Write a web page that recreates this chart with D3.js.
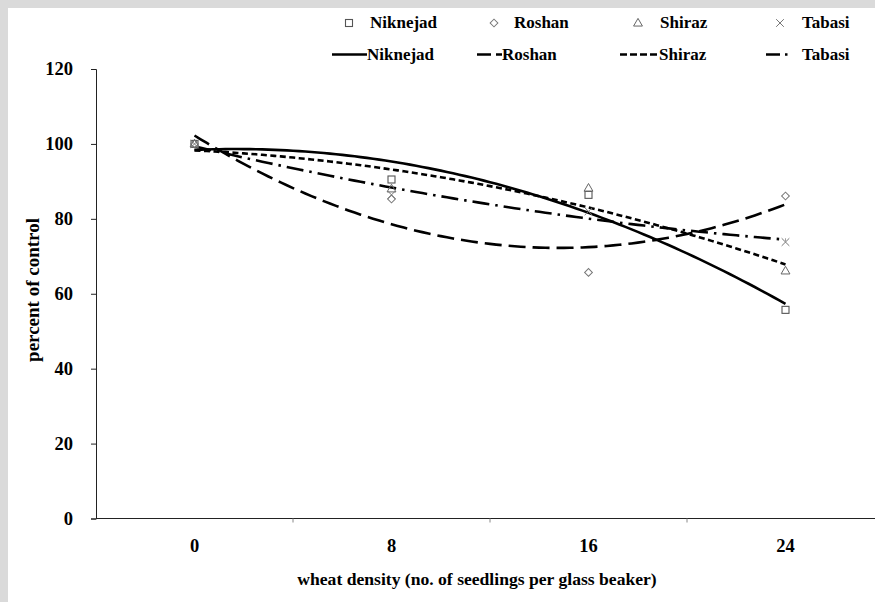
<!DOCTYPE html>
<html>
<head>
<meta charset="utf-8">
<script src="https://cdn.jsdelivr.net/npm/d3@7"></script>
<style>
  body { margin: 0; background: #fff; }
</style>
</head>
<body>
<div id="grafico"></div>
<script>
// dados
const densidades = ["0", "8", "16", "24"];
const niknejad = [100, 90.5, 86.4, 55.7];
const roshan = [100, 85.3, 65.7, 86.1];
const shiraz = [100, 88.0, 88.2, 66.1];
const tabasi = [100, 86.4, 82.0, 73.8];
const ticks_y = [0, 20, 40, 60, 80, 100, 120];

const fonte = "'Liberation Serif', 'DejaVu Serif', 'Times New Roman', serif";

const series = [
  {nome: "Niknejad", valores: niknejad, simbolo: "square", traco: null, legX: 349, textoX: 370, linhaLeg: [332, 367], textoX2: 367},
  {nome: "Roshan", valores: roshan, simbolo: "diamond", traco: "17,7", tracoLeg: "14,5", legX: 494, textoX: 514, linhaLeg: [477, 502], textoX2: 502},
  {nome: "Shiraz", valores: shiraz, simbolo: "triangle", traco: "6,3.5", tracoLeg: "7,3", legX: 638, textoX: 660, linhaLeg: [620, 659], textoX2: 659},
  {nome: "Tabasi", valores: tabasi, simbolo: "x", traco: "17,6,2.5,6", tracoLeg: "14,5,2.5,5", legX: 780, textoX: 802, linhaLeg: [766, 789], textoX2: 802}
];

const largura = 875, altura = 602;

const svg = d3.select("#grafico").append("svg")
    .attr("width", largura)
    .attr("height", altura)
    .attr("font-family", fonte)
    .attr("font-weight", "bold");

// moldura cinza (topo e esquerda)
svg.append("rect").attr("x", 0).attr("y", 0).attr("width", largura).attr("height", 8).attr("fill", "#dadada");
svg.append("rect").attr("x", 0).attr("y", 0).attr("width", 8).attr("height", altura).attr("fill", "#dadada");

// escalas
const x = d3.scaleBand().domain(densidades).range([96, 884]).paddingInner(0).paddingOuter(0);
const xNum = d3.scaleLinear()
    .domain([+densidades[0], +densidades[densidades.length - 1]])
    .range([x(densidades[0]) + x.bandwidth() / 2, x(densidades[densidades.length - 1]) + x.bandwidth() / 2]);
const y = d3.scaleLinear().domain([0, 120]).range([518.5, 69]);

// eixo y
const eixoY = svg.append("g")
    .attr("transform", "translate(96,0)")
    .call(d3.axisLeft(y).tickValues(ticks_y).tickSize(5).tickPadding(18).tickFormat(d3.format("d")));
eixoY.attr("font-family", fonte).attr("font-size", 18.5);
eixoY.select(".domain").attr("stroke", "#222");
eixoY.selectAll(".tick line").attr("stroke", "#222");
eixoY.selectAll(".tick text").attr("fill", "#000");

// eixo x com marcas entre as categorias
const eixoX = svg.append("g")
    .attr("transform", "translate(0,518.5)");
eixoX.append("line")
    .attr("x1", 96).attr("x2", 884)
    .attr("stroke", "#222");
eixoX.selectAll(".marca")
  .data(densidades.slice(1))
  .join("line")
    .attr("x1", d => x(d)).attr("x2", d => x(d))
    .attr("y1", 0).attr("y2", 4)
    .attr("stroke", "#888");
eixoX.selectAll(".rotulo")
  .data(densidades)
  .join("text")
    .attr("x", d => x(d) + x.bandwidth() / 2)
    .attr("y", 33.5)
    .attr("text-anchor", "middle")
    .attr("font-size", 18.5)
    .text(d => d);

// títulos dos eixos
svg.append("text")
    .attr("x", 477).attr("y", 585)
    .attr("text-anchor", "middle")
    .attr("font-size", 17.6)
    .text("wheat density (no. of  seedlings per glass beaker)");
svg.append("text")
    .attr("transform", "translate(39,290) rotate(-90)")
    .attr("text-anchor", "middle")
    .attr("font-size", 19)
    .text("percent of control");

// ajuste polinomial de 2ª ordem (linha de tendência)
function ajuste2(xs, ys) {
  let s = [0, 0, 0, 0, 0], t = [0, 0, 0];
  xs.forEach((xi, i) => {
    for (let k = 0; k < 5; k++) s[k] += Math.pow(xi, k);
    for (let k = 0; k < 3; k++) t[k] += Math.pow(xi, k) * ys[i];
  });
  const A = [[s[0], s[1], s[2]], [s[1], s[2], s[3]], [s[2], s[3], s[4]]];
  const det = m => m[0][0] * (m[1][1] * m[2][2] - m[1][2] * m[2][1])
    - m[0][1] * (m[1][0] * m[2][2] - m[1][2] * m[2][0])
    + m[0][2] * (m[1][0] * m[2][1] - m[1][1] * m[2][0]);
  const D = det(A);
  const coef = [0, 1, 2].map(c => det(A.map((linha, r) => linha.map((v, j) => j === c ? t[r] : v))) / D);
  return xv => coef[0] + coef[1] * xv + coef[2] * xv * xv;
}

const xs = densidades.map(Number);
const linha = d3.line().x(d => xNum(d[0])).y(d => y(d[1]));
const passos = d3.range(0, 24.01, 0.25);

const linhas = svg.append("g").attr("fill", "none").attr("stroke", "#000").attr("stroke-width", 2.6);
series.forEach(s => {
  const f = ajuste2(xs, s.valores);
  linhas.append("path")
      .attr("d", linha(passos.map(p => [p, f(p)])))
      .attr("stroke-dasharray", s.traco);
});

// símbolos
function simbolo(g, tipo, cx, cy) {
  if (tipo === "square") {
    g.append("rect").attr("x", cx - 3.5).attr("y", cy - 3.5).attr("width", 7).attr("height", 7)
      .attr("fill", "#fff").attr("stroke", "#555").attr("stroke-width", 1.1);
  } else if (tipo === "diamond") {
    g.append("path").attr("d", d3.symbol(d3.symbolSquare, 30)())
      .attr("transform", `translate(${cx},${cy}) rotate(45)`)
      .attr("fill", "#fff").attr("stroke", "#777").attr("stroke-width", 1);
  } else if (tipo === "triangle") {
    g.append("path").attr("d", d3.symbol(d3.symbolTriangle, 34)())
      .attr("transform", `translate(${cx},${cy + 0.5})`)
      .attr("fill", "none").attr("stroke", "#666").attr("stroke-width", 1);
  } else {
    g.append("path").attr("d", d3.symbol(d3.symbolX, 40)())
      .attr("transform", `translate(${cx},${cy})`)
      .attr("fill", "none").attr("stroke", "#777").attr("stroke-width", 1);
  }
}

const pontos = svg.append("g");
series.forEach(s => {
  s.valores.forEach((v, i) => simbolo(pontos, s.simbolo, x(densidades[i]) + x.bandwidth() / 2, y(v)));
});

// legenda
const legenda = svg.append("g");
series.forEach(s => {
  simbolo(legenda, s.simbolo, s.legX, 23);
  legenda.append("text")
      .attr("x", s.textoX).attr("y", 28)
      .attr("font-size", 17)
      .text(s.nome);
  legenda.append("line")
      .attr("x1", s.linhaLeg[0]).attr("x2", s.linhaLeg[1])
      .attr("y1", 54.5).attr("y2", 54.5)
      .attr("stroke", "#000").attr("stroke-width", 2.6)
      .attr("stroke-dasharray", s.tracoLeg || null);
  legenda.append("text")
      .attr("x", s.textoX2).attr("y", 60)
      .attr("font-size", 17)
      .text(s.nome);
});
</script>
</body>
</html>
